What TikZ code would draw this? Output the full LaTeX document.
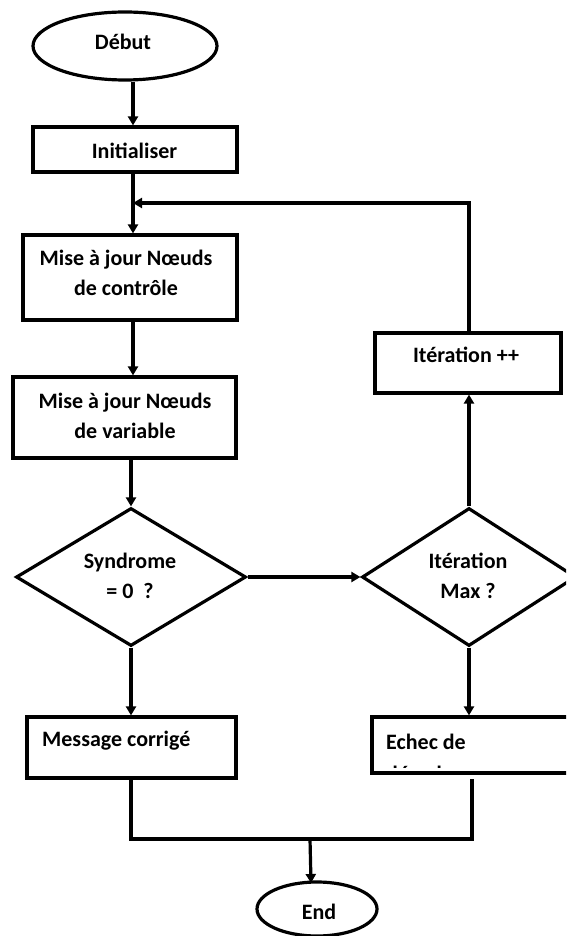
\documentclass[tikz,border=0pt]{standalone}
\usepackage{fontspec}
\setmainfont{Carlito}
\usetikzlibrary{shapes.geometric,arrows.meta}
\begin{document}
\begin{tikzpicture}[x=1pt,y=-1pt,
  every node/.style={inner sep=0pt},
  txt/.style={font=\bfseries\fontsize{22}{29.5}\selectfont, align=center, anchor=base},
  ltxt/.style={font=\bfseries\fontsize{22}{29.5}\selectfont, anchor=base west},
  box/.style={draw, line width=3.2pt, rectangle},
  term/.style={draw, line width=3.2pt, ellipse},
  dec/.style={draw, line width=3.2pt, diamond},
  flow/.style={line width=3.2pt},
  arr/.style={flow, -{Triangle[length=9pt,width=10pt]}}]
\clip (0,0) rectangle (566,936);

% shapes
\node[term, minimum width=184pt, minimum height=68pt] (debut) at (125,46) {};
\node[box, minimum width=204pt, minimum height=45pt] (init) at (135,149.5) {};
\node[box, minimum width=214pt, minimum height=85pt] (mise1) at (130,277.5) {};
\node[box, minimum width=223pt, minimum height=81pt] (mise2) at (124.5,417.5) {};
\node[dec, minimum width=230pt, minimum height=138pt] (syn) at (131,577) {};
\node[dec, minimum width=214pt, minimum height=138pt] (imax) at (469,577) {};
\node[box, minimum width=186pt, minimum height=60pt] (ipp) at (468,363) {};
\node[box, minimum width=209pt, minimum height=61pt] (msg) at (131.5,747.5) {};
\node[box, minimum width=208pt, minimum height=56pt] (echec) at (476,745) {};
\node[term, minimum width=120pt, minimum height=54pt] (fin) at (317,909) {};

% texts (multi-line nodes are anchored on their last baseline)
\node[txt] (t-debut) at (123,50) {Début};
\node[txt] (t-init) at (134.5,159) {Initialiser};
\node[txt] (t-mise1) at (126,295) {Mise à jour Nœuds\\de contrôle};
\node[txt] (t-mise2) at (125,438) {Mise à jour Nœuds\\de variable};
\node[txt] (t-syn) at (130,598) {Syndrome\\= 0\ \ ?};
\node[txt] (t-imax) at (468,598) {Itération\\Max ?};
\node[txt] (t-ipp) at (466,362) {Itération ++};
\node[ltxt] (t-msg) at (42,746) {Message corrigé};
\node[ltxt] (t-echec) at (386,749) {Echec de};
\begin{scope}
  \clip (372,717) rectangle (580,767);
  \node[ltxt] (t-echec2) at (386,781) {décodage};
\end{scope}
\node[txt] (t-fin) at (319,919) {End};

% connectors
\coordinate (spine) at (133,0);
\coordinate (loop) at (133,203);
\coordinate (mR) at (472,839);
\coordinate (eB) at (472,779);
\coordinate (mM) at (310,839);
\coordinate (fT) at (311,883);

\draw[arr] (spine |- debut.south) -- (spine |- init.north);
\draw[arr] (spine |- init.south) -- (spine |- mise1.north);
\draw[arr] (spine |- mise1.south) -- (spine |- mise2.north);
\draw[arr] (syn.north |- mise2.south) -- (syn.north);
\draw[arr] (syn.south) -- (syn.south |- msg.north);
\draw[arr] (syn.east) -- (imax.west);
\draw[arr] (imax.north) -- (imax.north |- ipp.south);
\draw[arr] (imax.north |- ipp.north) |- (loop);
\draw[arr] (imax.south) -- (imax.south |- echec.north);
\draw[flow] (syn.south |- msg.south) |- (mR) -- (eB);
\draw[arr] (mM) -- (fT);
\end{tikzpicture}
\end{document}
